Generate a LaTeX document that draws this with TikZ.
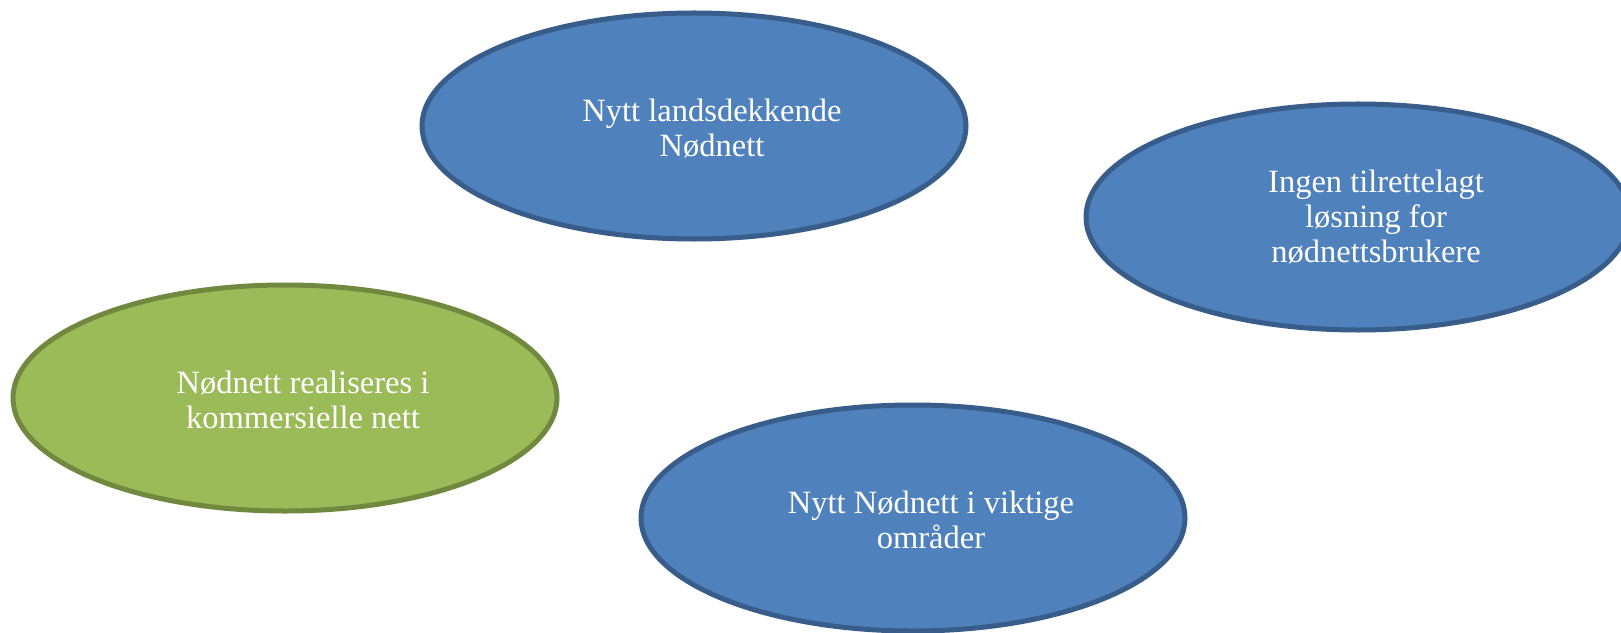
\documentclass[tikz,border=0pt]{standalone}
\usepackage{fontspec}
\setmainfont{Liberation Serif}
\usetikzlibrary{shapes.geometric}
\definecolor{bluefill}{HTML}{4F81BD}
\definecolor{blueline}{HTML}{385D8A}
\definecolor{greenfill}{HTML}{9BBB59}
\definecolor{greenline}{HTML}{71893F}
\begin{document}
\begin{tikzpicture}[x=1bp,y=-1bp,
  oval/.style={ellipse, minimum width=544bp, minimum height=226bp, inner sep=0pt, line width=5bp},
  blueoval/.style={oval, fill=bluefill, draw=blueline},
  greenoval/.style={oval, fill=greenfill, draw=greenline},
  caption/.style={text=white, align=center, font=\fontsize{32.5bp}{35bp}\selectfont}]
\useasboundingbox[fill=white] (0,0) rectangle (1621,633);
\node[blueoval] (top) at (694,126) {};
\node[blueoval] (right) at (1358,217) {};
\node[greenoval] (left) at (285,398) {};
\node[blueoval] (bottom) at (913,518) {};
\node[caption] (ttop) at ([shift={(18,2)}]top.center) {Nytt landsdekkende\\Nødnett};
\node[caption] (tright) at ([shift={(18,0)}]right.center) {Ingen tilrettelagt\\løsning for\\nødnettsbrukere};
\node[caption] (tleft) at ([shift={(18,2)}]left.center) {Nødnett realiseres i\\kommersielle nett};
\node[caption] (tbottom) at ([shift={(18,2)}]bottom.center) {Nytt Nødnett i viktige\\områder};
\end{tikzpicture}
\end{document}
